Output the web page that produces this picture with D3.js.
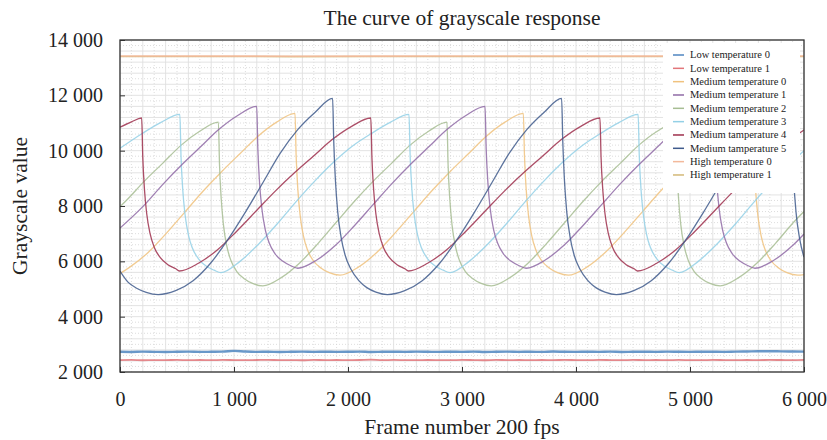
<!DOCTYPE html>
<html><head><meta charset="utf-8">
<script src="https://cdn.jsdelivr.net/npm/d3@7"></script>
<style>
body{margin:0;background:#fff}
svg{display:block}
text{font-family:"Liberation Serif","Times New Roman",serif;fill:#222}
</style>
</head><body>
<svg id="chart" width="827" height="440"></svg>
<script>
const titleText = "The curve of grayscale response";
const xTitle = "Frame number 200 fps";
const yTitle = "Grayscale value";
const xTicks = [0,1000,2000,3000,4000,5000,6000];
const yTicks = [2000,4000,6000,8000,10000,12000,14000];
const seriesNames = ["Low temperature 0","Low temperature 1","Medium temperature 0","Medium temperature 1","Medium temperature 2","Medium temperature 3","Medium tamperature 4","Medium tamperature 5","High temperature 0","High temperature 1"];
const seriesColors = ["#4f86c0","#e2767a","#f0c27e","#8f6aa6","#a7bd93","#93d0e6","#9e2f4c","#3f5a8c","#f3b99b","#d3b877"];

const flatFrames = d3.range(0, 6001, 100);
const lowTemp0 = [2730,2725,2735,2728,2722,2732,2738,2726,2730,2735,2765,2740,2728,2732,2724,2730,2736,2728,2733,2727,2731,2738,2725,2730,2734,2728,2736,2731,2726,2733,2729,2737,2724,2731,2735,2728,2732,2726,2739,2730,2727,2734,2729,2736,2725,2731,2733,2728,2737,2730,2726,2734,2731,2728,2736,2742,2748,2752,2745,2740,2735];
const lowTemp1 = [2430,2435,2425,2432,2428,2438,2426,2433,2429,2436,2431,2427,2434,2440,2428,2432,2425,2437,2430,2434,2427,2433,2445,2429,2435,2430,2426,2434,2431,2428,2437,2432,2425,2436,2430,2433,2427,2434,2429,2438,2431,2426,2435,2432,2428,2436,2430,2433,2427,2435,2431,2429,2436,2432,2428,2434,2430,2437,2433,2429,2435];
const highFrames = [0,1500,3000,4500,6000];
const highTemp0 = [13420,13415,13420,13418,13420];
const highTemp1 = [13405,13400,13405,13402,13405];

const medTemp0 = [[0,5560],[86,5790],[247,6320],[408,7020],[569,7780],[730,8540],[891,9240],[1052,9890],[1213,10530],[1374,11030],[1535,11350],
[1545,9830],[1560,8600],[1580,7670],[1610,6900],[1645,6410],[1695,6030],[1765,5750],[1835,5590],[1930,5500],
[2091,5790],[2252,6320],[2412,7020],[2573,7780],[2734,8540],[2895,9240],[3056,9890],[3216,10530],[3377,11030],[3538,11350],
[3548,9830],[3563,8600],[3583,7670],[3613,6900],[3648,6410],[3698,6030],[3768,5750],[3838,5590],[3933,5500],
[4095,5790],[4256,6320],[4418,7020],[4580,7780],[4742,8540],[4903,9240],[5065,9890],[5227,10530],[5388,11030],[5550,11350],
[5560,9830],[5575,8600],[5595,7670],[5625,6900],[5660,6410],[5710,6030],[5780,5750],[5850,5590],[5945,5500],[6000,5520]];

const medTemp1 = [[0,7200],[213,8030],[378,8790],[542,9490],[707,10140],[871,10780],[1036,11280],[1199,11600],
[1209,10080],[1224,8850],[1244,7920],[1274,7150],[1309,6660],[1359,6280],[1429,6000],[1499,5840],[1559,5750],
[1723,6040],[1888,6570],[2052,7270],[2216,8030],[2381,8790],[2545,9490],[2709,10140],[2873,10780],[3038,11280],[3202,11600],
[3212,10080],[3227,8850],[3247,7920],[3277,7150],[3312,6660],[3362,6280],[3432,6000],[3502,5840],[3562,5750],
[3727,6040],[3892,6570],[4056,7270],[4221,8030],[4386,8790],[4551,9490],[4716,10140],[4880,10780],[5045,11280],[5210,11600],
[5220,10080],[5235,8850],[5255,7920],[5285,7150],[5320,6660],[5370,6280],[5440,6000],[5510,5840],[5570,5750],
[5735,6040],[5900,6570],[6000,6990]];

const medTemp2 = [[0,7975],[53,8190],[214,8900],[376,9550],[537,10200],[699,10700],[863,11030],
[873,9490],[888,8250],[908,7300],[938,6530],[973,6030],[1023,5640],[1093,5360],[1163,5200],[1253,5110],
[1415,5410],[1576,5940],[1738,6650],[1899,7420],[2061,8190],[2222,8900],[2384,9550],[2545,10200],[2707,10700],[2868,11030],
[2878,9490],[2893,8250],[2913,7300],[2943,6530],[2978,6030],[3028,5640],[3098,5360],[3168,5200],[3258,5110],
[3420,5410],[3581,5940],[3743,6650],[3905,7420],[4067,8190],[4228,8900],[4390,9550],[4552,10200],[4713,10700],[4875,11030],
[4885,9490],[4900,8250],[4920,7300],[4950,6530],[4985,6030],[5035,5640],[5105,5360],[5175,5200],[5265,5110],
[5427,5410],[5588,5940],[5750,6650],[5911,7420],[6000,7800]];

const medTemp3 = [[0,10085],[195,10620],[360,11020],[525,11310],
[535,9820],[550,8620],[570,7710],[600,6960],[635,6480],[685,6110],[755,5830],[825,5680],[885,5590],
[1050,5990],[1215,6620],[1380,7360],[1545,8160],[1710,8910],[1875,9590],[2040,10170],[2205,10620],[2370,11020],[2535,11310],
[2545,9820],[2560,8620],[2580,7710],[2610,6960],[2645,6480],[2695,6110],[2765,5830],[2835,5680],[2895,5590],
[3060,5990],[3225,6620],[3390,7360],[3555,8160],[3720,8910],[3885,9590],[4050,10170],[4215,10620],[4380,11020],[4545,11310],
[4555,9820],[4570,8620],[4590,7710],[4620,6960],[4655,6480],[4705,6110],[4775,5830],[4845,5680],[4905,5590],
[5070,5990],[5235,6620],[5400,7360],[5565,8160],[5730,8910],[5895,9590],[6000,10000]];

const medTemp4 = [[0,10845],[100,11040],[190,11180],
[200,9740],[215,8580],[235,7700],[265,6980],[300,6510],[350,6150],[420,5880],[490,5730],[520,5650],
[688,5930],[856,6420],[1024,7090],[1192,7810],[1360,8530],[1528,9190],[1696,9800],[1864,10410],[2032,10880],[2200,11180],
[2210,9740],[2225,8580],[2245,7700],[2275,6980],[2310,6510],[2360,6150],[2430,5880],[2500,5730],[2530,5650],
[2698,5930],[2866,6420],[3034,7090],[3202,7810],[3370,8530],[3538,9190],[3706,9800],[3874,10410],[4042,10880],[4210,11180],
[4220,9740],[4235,8580],[4255,7700],[4285,6980],[4320,6510],[4370,6150],[4440,5880],[4510,5730],[4540,5650],
[4708,5930],[4876,6420],[5044,7090],[5212,7810],[5380,8530],[5548,9190],[5716,9800],[5884,10410],[6000,10750]];

const medTemp5 = [[0,5650],[70,5250],[150,5020],[230,4880],[335,4800],
[488,4940],[641,5300],[794,5930],[947,6790],[1100,7780],[1253,8840],[1406,9910],[1559,10760],[1712,11390],[1865,11890],
[1875,10330],[1890,8910],[1910,7780],[1940,6860],[1975,6220],[2025,5720],[2095,5300],[2165,5050],[2245,4890],[2345,4800],
[2498,4940],[2651,5300],[2804,5930],[2957,6790],[3110,7780],[3262,8840],[3415,9910],[3568,10760],[3721,11390],[3874,11890],
[3884,10330],[3899,8910],[3919,7780],[3949,6860],[3984,6220],[4034,5720],[4104,5300],[4174,5050],[4254,4890],[4354,4800],
[4507,4940],[4660,5300],[4813,5930],[4966,6790],[5119,7780],[5272,8840],[5425,9910],[5578,10760],[5731,11390],[5885,11890],
[5895,10330],[5910,8910],[5930,7780],[5960,6860],[5995,6220],[6000,6150]];

const W = 827, H = 440;
const margin = {left:120, right:23, top:40, bottom:68};
const svg = d3.select("#chart");
const x = d3.scaleLinear().domain([0,6000]).range([margin.left, W - margin.right]);
const y = d3.scaleLinear().domain([2000,14000]).range([H - margin.bottom, margin.top]);
const fmt = d => d3.format(",")(d).replace(/,/g, " ");

svg.append("defs").append("clipPath").attr("id","clip")
  .append("rect").attr("x", x(0)).attr("y", y(14000)).attr("width", x(6000)-x(0)).attr("height", y(2000)-y(14000));

// grid
const grid = svg.append("g");
const vMajor = d3.range(0, 6001, 200), vMinor = d3.range(100, 6000, 200);
const hMajor = d3.range(2000, 14001, 400), hMinor = d3.range(2200, 14000, 400);
grid.selectAll(".vmi").data(vMinor).join("line").attr("x1", d=>x(d)).attr("x2", d=>x(d)).attr("y1", y(2000)).attr("y2", y(14000))
  .attr("stroke","#d4d4d4").attr("stroke-width",0.8).attr("stroke-dasharray","1,2");
grid.selectAll(".hmi").data(hMinor).join("line").attr("y1", d=>y(d)).attr("y2", d=>y(d)).attr("x1", x(0)).attr("x2", x(6000))
  .attr("stroke","#d4d4d4").attr("stroke-width",0.8).attr("stroke-dasharray","1,2");
grid.selectAll(".vma").data(vMajor).join("line").attr("x1", d=>x(d)).attr("x2", d=>x(d)).attr("y1", y(2000)).attr("y2", y(14000))
  .attr("stroke","#e0e0e0").attr("stroke-width",0.9);
grid.selectAll(".hma").data(hMajor).join("line").attr("y1", d=>y(d)).attr("y2", d=>y(d)).attr("x1", x(0)).attr("x2", x(6000))
  .attr("stroke","#e0e0e0").attr("stroke-width",0.9);

const line = d3.line().x(d=>x(d[0])).y(d=>y(d[1])).curve(d3.curveMonotoneX);
const plot = svg.append("g").attr("clip-path","url(#clip)");

const curves = [
  {data: highFrames.map((f,i)=>[f, highTemp1[i]]), c: seriesColors[9], w: 1.6},
  {data: highFrames.map((f,i)=>[f, highTemp0[i]]), c: seriesColors[8], w: 1.6},
  {data: medTemp0, c: seriesColors[2], w: 1.3},
  {data: medTemp2, c: seriesColors[4], w: 1.3},
  {data: medTemp3, c: seriesColors[5], w: 1.3},
  {data: medTemp1, c: seriesColors[3], w: 1.3},
  {data: medTemp4, c: seriesColors[6], w: 1.3},
  {data: medTemp5, c: seriesColors[7], w: 1.3},
  {data: flatFrames.map((f,i)=>[f, lowTemp1[i]]), c: seriesColors[1], w: 1.8},
  {data: flatFrames.map((f,i)=>[f, lowTemp0[i]]), c: seriesColors[0], w: 2.4}
];
curves.forEach(s => {
  plot.append("path").datum(s.data).attr("d", line).attr("fill","none")
    .attr("stroke", s.c).attr("stroke-width", s.w).attr("stroke-opacity", 0.85);
});

// axes
const xAxis = d3.axisBottom(x).tickValues(xTicks).tickFormat(fmt).tickSizeInner(-5).tickSizeOuter(0).tickPadding(20);
const yAxis = d3.axisLeft(y).tickValues(yTicks).tickFormat(fmt).tickSizeInner(-5).tickSizeOuter(0).tickPadding(17);
const gx = svg.append("g").attr("transform", `translate(0,${y(2000)})`).call(xAxis);
const gy = svg.append("g").attr("transform", `translate(${x(0)},0)`).call(yAxis);
[gx, gy].forEach(g => {
  g.select(".domain").remove();
  g.selectAll("line").attr("stroke","#333");
  g.selectAll("text").attr("font-size", 20).attr("font-family", "Liberation Serif").attr("fill","#222");
});

svg.append("rect").attr("x", x(0)).attr("y", y(14000)).attr("width", x(6000)-x(0)).attr("height", y(2000)-y(14000))
  .attr("fill","none").attr("stroke","#333").attr("stroke-width",1.3);

// legend
const lg = svg.append("g");
lg.append("rect").attr("x", 663).attr("y", 43).attr("width", 137).attr("height", 150).attr("fill","#fff");
seriesNames.forEach((n,i) => {
  const yy = 55 + i*13.33;
  lg.append("line").attr("x1", 673).attr("x2", 684).attr("y1", yy).attr("y2", yy).attr("stroke", seriesColors[i]).attr("stroke-width", 1.5);
  lg.append("text").attr("x", 690).attr("y", yy).attr("dy","0.33em").attr("font-size", 10.5).text(n);
});

// titles
svg.append("text").attr("x", (x(0)+x(6000))/2).attr("y", 25).attr("text-anchor","middle").attr("font-size", 21.5).text(titleText);
svg.append("text").attr("x", (x(0)+x(6000))/2).attr("y", 434).attr("text-anchor","middle").attr("font-size", 21.5).text(xTitle);
svg.append("text").attr("transform", `translate(27,${(y(2000)+y(14000))/2}) rotate(-90)`).attr("text-anchor","middle").attr("font-size", 21.5).text(yTitle);
</script>
</body></html>
